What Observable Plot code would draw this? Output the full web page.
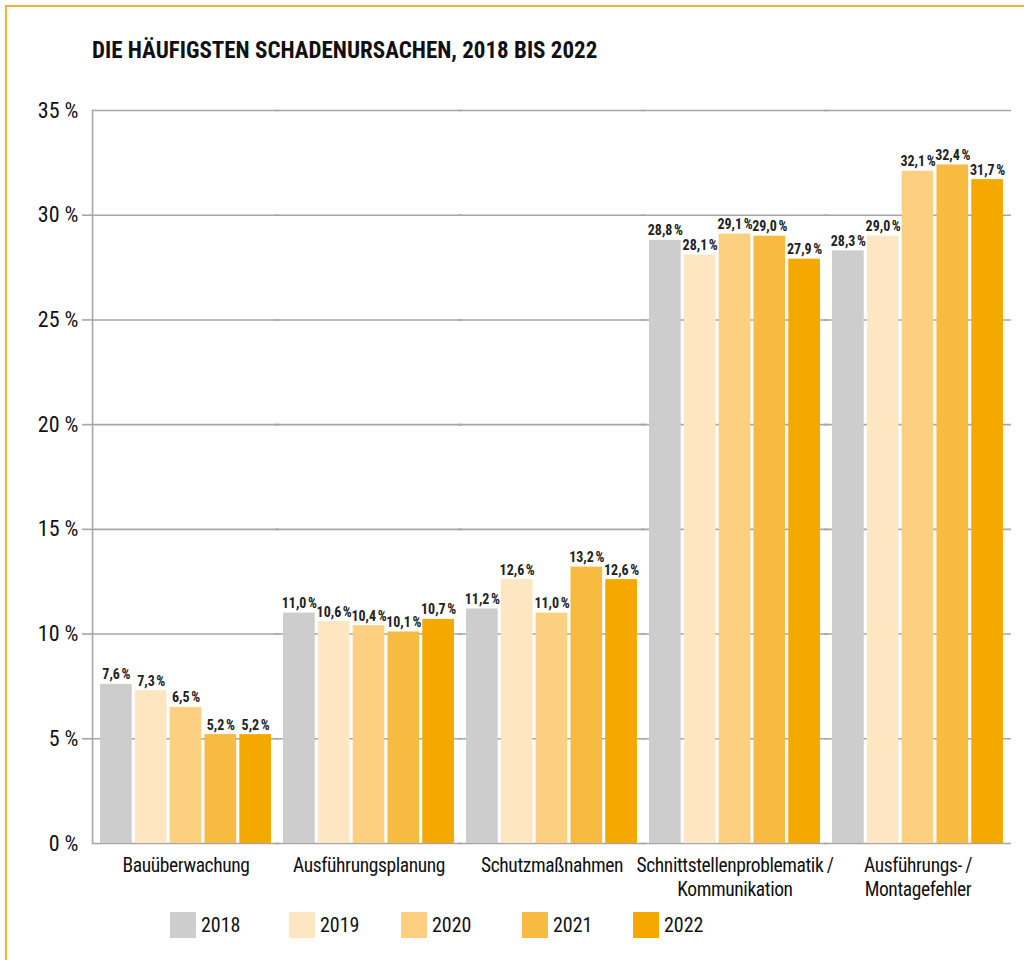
<!DOCTYPE html>
<html>
<head>
<meta charset="utf-8">
<script src="https://cdn.jsdelivr.net/npm/d3@7"></script>
<script src="https://cdn.jsdelivr.net/npm/@observablehq/plot@0.6"></script>
<style>
  html, body { margin: 0; padding: 0; background: #fff; }
  #page { position: relative; width: 1024px; height: 960px; overflow: hidden;
          font-family: "Liberation Sans Narrow", "Roboto Condensed", "DejaVu Sans Condensed", sans-serif; color: #111; }
  #bt { position: absolute; left: 5px; top: 5px; width: 1019px; height: 1.5px; background: #f7b234; }
  #bl { position: absolute; left: 5px; top: 5px; width: 1.5px; height: 955px; background: #f7b234; }
  #title { position: absolute; left: 92px; top: 37px; font-weight: bold; font-size: 23px; letter-spacing: 0; }
  #chart { position: absolute; left: 0; top: 0; }
  #chart g[aria-label="fx-axis tick label"] text { letter-spacing: -0.4px; }
  #legend { position: absolute; left: 0; top: 912px; width: 1024px; height: 30px; }
  .item { position: absolute; top: 0; display: flex; align-items: center; font-size: 20px; }
  .sw { width: 26px; height: 26px; margin-right: 5px; }
</style>
</head>
<body>
<div id="page">
  <div id="bt"></div><div id="bl"></div>
  <div id="title">DIE HÄUFIGSTEN SCHADENURSACHEN, 2018 BIS 2022</div>
  <div id="chart"></div>
  <div id="legend"></div>
</div>
<script>
const categories = ["Bauüberwachung", "Ausführungsplanung", "Schutzmaßnahmen", "Schnittstellenproblematik / Kommunikation", "Ausführungs- / Montagefehler"];
const categoryLabels = ["Bauüberwachung", "Ausführungsplanung", "Schutzmaßnahmen", "Schnittstellenproblematik\u2009/\nKommunikation", "Ausführungs-\u2009/\nMontagefehler"];
const years = ["2018", "2019", "2020", "2021", "2022"];
const colors = ["#cdcdcd", "#fde6c1", "#fdcf80", "#f8bb41", "#f5a800"];
const v2018 = [7.6, 11.0, 11.2, 28.8, 28.3];
const v2019 = [7.3, 10.6, 12.6, 28.1, 29.0];
const v2020 = [6.5, 10.4, 11.0, 29.1, 32.1];
const v2021 = [5.2, 10.1, 13.2, 29.0, 32.4];
const v2022 = [5.2, 10.7, 12.6, 27.9, 31.7];
const yTicks = [0, 5, 10, 15, 20, 25, 30, 35];

const series = [v2018, v2019, v2020, v2021, v2022];
const data = [];
categories.forEach((c, i) => {
  years.forEach((yr, j) => data.push({category: c, year: yr, value: series[j][i]}));
});
const fmt = v => v.toFixed(1).replace(".", ",") + "\u202f%";
const font = '"Liberation Sans Narrow", "Roboto Condensed", "DejaVu Sans Condensed", sans-serif';
const gridColor = "#a6a6a6";

const chart = Plot.plot({
  width: 1024,
  height: 900,
  marginTop: 110,
  marginBottom: 57,
  marginLeft: 92,
  marginRight: 13,
  style: {fontFamily: font, fontSize: "18px", color: "#111", background: "transparent"},
  fx: {domain: categories, paddingInner: 0.066, paddingOuter: 0.044, round: false, label: null},
  x: {domain: years, paddingInner: 0.09, paddingOuter: 0, round: false, axis: null},
  y: {domain: [0, 35], label: null, axis: null},
  color: {domain: years, range: colors},
  marks: [
    Plot.ruleY(yTicks, {stroke: gridColor, strokeWidth: 1.6, insetLeft: -8, insetRight: -8}),
    Plot.barY(data, {fx: "category", x: "year", y: "value", fill: "year"}),
    Plot.frame({fx: () => categories[0], anchor: "left", insetLeft: -8, stroke: gridColor, strokeWidth: 1.6}),
    Plot.axisY({ticks: yTicks.slice(1, -1), tickSize: 10, tickPadding: 5, dx: -8, tickFormat: () => "", stroke: gridColor, strokeWidth: 1.6}),
    Plot.axisY({ticks: yTicks, tickSize: 0, tickPadding: 14, dx: -8, tickFormat: d => d + " %", fontSize: 22, fill: "#111"}),
    Plot.axisFx({anchor: "bottom", tickSize: 0, tickPadding: 11, fontSize: 19.5, lineHeight: 1.23, fill: "#111",
                 tickFormat: d => categoryLabels[categories.indexOf(d)], label: null}),
    Plot.text(data, {fx: "category", x: "year", y: "value", text: d => fmt(d.value),
                     dy: -5, lineAnchor: "bottom", fontWeight: "bold", fontSize: 14, fill: "#222"})
  ]
});
document.getElementById("chart").appendChild(chart);

const legendX = [170, 289, 401, 522, 633];
const legend = document.getElementById("legend");
years.forEach((yr, i) => {
  const item = document.createElement("div");
  item.className = "item";
  item.style.left = legendX[i] + "px";
  item.innerHTML = `<div class="sw" style="background:${colors[i]}"></div><span>${yr}</span>`;
  legend.appendChild(item);
});
</script>
</body>
</html>
